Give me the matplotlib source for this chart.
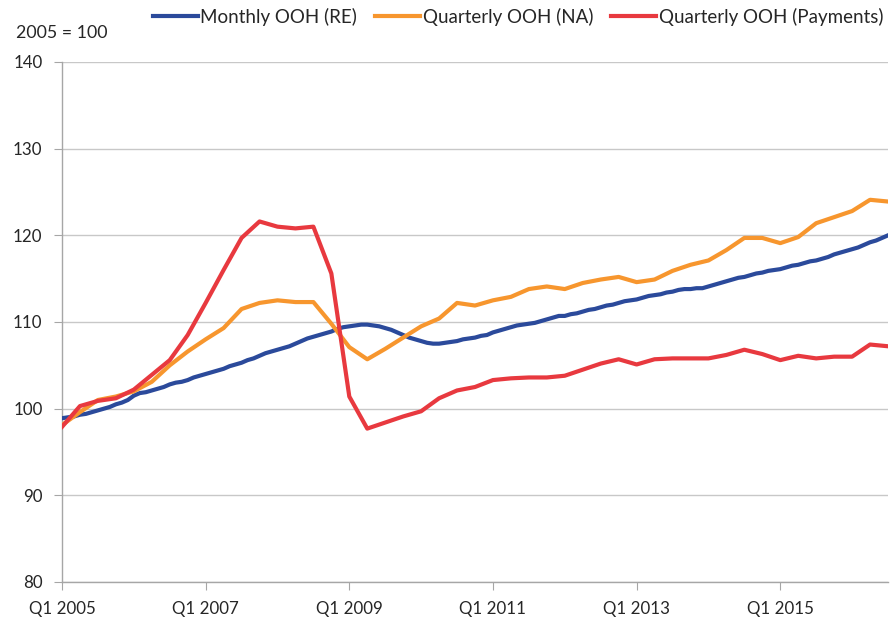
import matplotlib
matplotlib.use("Agg")
import matplotlib.pyplot as plt
import numpy as np

plt.rcParams['font.family'] = ['Lato', 'DejaVu Sans']

# Monthly OOH (RE), Jan 2005 .. Jul 2016
monthly_re = [
    98.9, 99.0, 99.1, 99.3, 99.4, 99.6, 99.8, 100.0, 100.2, 100.5, 100.7, 101.0,
    101.5, 101.8, 101.9, 102.1, 102.3, 102.5, 102.8, 103.0, 103.1, 103.3, 103.6, 103.8,
    104.0, 104.2, 104.4, 104.6, 104.9, 105.1, 105.3, 105.6, 105.8, 106.1, 106.4, 106.6,
    106.8, 107.0, 107.2, 107.5, 107.8, 108.1, 108.3, 108.5, 108.7, 108.9, 109.2, 109.4,
    109.5, 109.6, 109.7, 109.7, 109.6, 109.5, 109.3, 109.1, 108.8, 108.5, 108.2, 108.0,
    107.8, 107.6, 107.5, 107.5, 107.6, 107.7, 107.8, 108.0, 108.1, 108.2, 108.4, 108.5,
    108.8, 109.0, 109.2, 109.4, 109.6, 109.7, 109.8, 109.9, 110.1, 110.3, 110.5, 110.7,
    110.7, 110.9, 111.0, 111.2, 111.4, 111.5, 111.7, 111.9, 112.0, 112.2, 112.4, 112.5,
    112.6, 112.8, 113.0, 113.1, 113.2, 113.4, 113.5, 113.7, 113.8, 113.8, 113.9, 113.9,
    114.1, 114.3, 114.5, 114.7, 114.9, 115.1, 115.2, 115.4, 115.6, 115.7, 115.9, 116.0,
    116.1, 116.3, 116.5, 116.6, 116.8, 117.0, 117.1, 117.3, 117.5, 117.8, 118.0, 118.2,
    118.4, 118.6, 118.9, 119.2, 119.4, 119.7, 120.0,
]

# Quarterly OOH (NA), Q1 2005 .. Q3 2016
quarterly_na = [
    98.1, 99.6, 101.0, 101.4, 102.0, 103.1, 105.0, 106.6, 108.0, 109.3,
    111.5, 112.2, 112.5, 112.3, 112.3, 109.8, 107.1, 105.7, 106.9, 108.2,
    109.5, 110.4, 112.2, 111.9, 112.5, 112.9, 113.8, 114.1, 113.8, 114.5,
    114.9, 115.2, 114.6, 114.9, 115.9, 116.6, 117.1, 118.3, 119.7, 119.7,
    119.1, 119.8, 121.4, 122.1, 122.8, 124.1, 123.9,
]

# Quarterly OOH (Payments), Q1 2005 .. Q3 2016
quarterly_pay = [
    97.9, 100.3, 100.9, 101.2, 102.2, 103.9, 105.6, 108.5, 112.2, 116.0,
    119.7, 121.6, 121.0, 120.8, 121.0, 115.6, 101.4, 97.7, 98.4, 99.1,
    99.7, 101.2, 102.1, 102.5, 103.3, 103.5, 103.6, 103.6, 103.8, 104.5,
    105.2, 105.7, 105.1, 105.7, 105.8, 105.8, 105.8, 106.2, 106.8, 106.3,
    105.6, 106.1, 105.8, 106.0, 106.0, 107.4, 107.2,
]

tick_labels = ["Q1 2005", "Q1 2007", "Q1 2009", "Q1 2011", "Q1 2013", "Q1 2015"]
series_names = ["Monthly OOH (RE)", "Quarterly OOH (NA)", "Quarterly OOH (Payments)"]
colors = ["#2B4A9B", "#F7962E", "#E8393F"]

x_month = np.arange(len(monthly_re))
x_quarter = np.arange(len(quarterly_na)) * 3

fig = plt.figure(figsize=(8.9, 6.25), dpi=100)
ax = fig.add_axes([62/890, 1-582/625, (888-62)/890, (582-62)/625])

txt = "#262626"
ax.plot(x_month, monthly_re, color=colors[0], lw=3.0, label=series_names[0], zorder=3, solid_joinstyle='round')
ax.plot(x_quarter, quarterly_na, color=colors[1], lw=3.0, label=series_names[1], zorder=3, solid_joinstyle='round')
ax.plot(x_quarter, quarterly_pay, color=colors[2], lw=3.0, label=series_names[2], zorder=4, solid_joinstyle='round')

ax.set_xlim(0, 138)
ax.set_ylim(80, 140)
ax.set_yticks(np.arange(80, 141, 10))
ax.set_xticks(np.arange(len(tick_labels)) * 24)
ax.set_xticklabels(tick_labels)
ax.grid(axis='y', color='#C8C8C8', lw=1.0)
ax.set_axisbelow(True)
for s in ['top', 'right']:
    ax.spines[s].set_visible(False)
for s in ['left', 'bottom']:
    ax.spines[s].set_color('#A6A6A6')
    ax.spines[s].set_linewidth(1.0)
ax.tick_params(axis='y', length=6, color='#A6A6A6', labelsize=12.2, labelcolor=txt, pad=8)
ax.tick_params(axis='x', length=6, color='#A6A6A6', labelsize=12.2, labelcolor=txt, pad=8)

fig.text(16/890, 1-33/625, "2005 = 100", fontsize=12.8, color=txt, va='center', ha='left')

fig.legend(loc='center', bbox_to_anchor=(518/890, 1-17/625), ncol=3, frameon=False,
           fontsize=13.5, handlelength=2.4, handletextpad=0.15, columnspacing=0.95,
           labelcolor=txt, borderaxespad=0)

fig.savefig("out.png", dpi=100)
